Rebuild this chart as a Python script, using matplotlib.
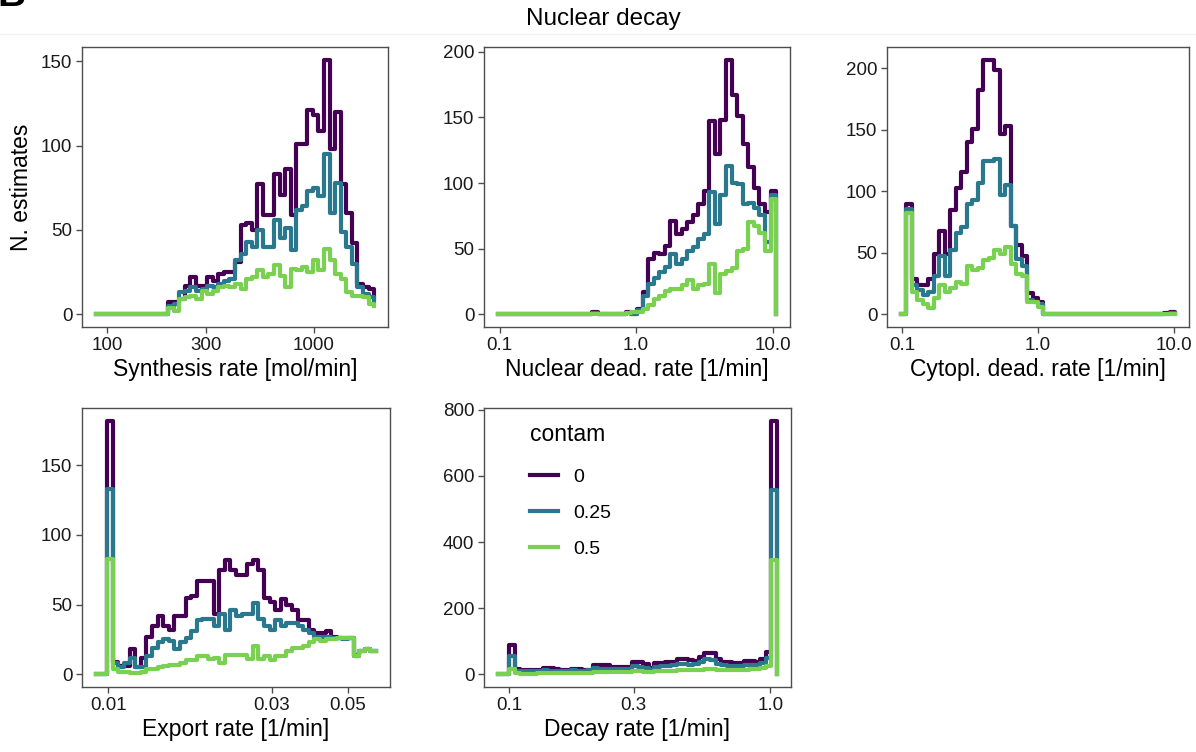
import matplotlib.pyplot as plt
import numpy as np
from matplotlib.ticker import NullLocator

plt.rcParams['font.family'] = ['Liberation Sans', 'DejaVu Sans']

# contam levels and their colours (viridis, end = 0.8)
contam = ['0', '0.25', '0.5']
colors = ['#440154', '#2A788E', '#7AD151']

# each series: 51 step points on an even log10 grid (50 bins + last point)
# Synthesis rate [mol/min]
synth_log_range = (1.947, 3.291)
synth_c0 = [0]*13 + [7, 7, 9, 17, 22, 17, 17, 22, 20, 24, 25, 25,
                     31, 53, 54, 50, 77, 59, 59, 83, 71, 86, 59, 101, 101, 121, 118, 109,
                     151, 98, 120, 77, 60, 42, 18, 16, 15, 10]
synth_c25 = [0]*13 + [5, 6, 13, 14, 16, 14, 15, 17, 16, 18, 20, 21,
                      32, 36, 43, 40, 50, 40, 40, 56, 45, 51, 38, 62, 64, 73, 75, 70,
                      95, 60, 78, 49, 40, 30, 16, 12, 10, 8]
synth_c50 = [0]*13 + [4, 2, 9, 10, 11, 9, 14, 12, 14, 16, 17, 16,
                      18, 15, 21, 22, 26, 22, 24, 29, 23, 16, 27, 26, 28, 25, 32, 26,
                      39, 32, 24, 21, 13, 11, 11, 10, 6, 5]

# Nuclear dead. rate [1/min]
nucl_log_range = (-1.012, 1.025)
nucl_c0 = [0]*17 + [2] + [0]*5 + [2, 0] + [4, 17, 42, 47, 46, 52, 71, 61, 65, 70, 76, 84, 94,
                                           147, 122, 148, 194, 167, 151, 130, 112, 96, 84, 78, 94, 0]
nucl_c25 = [0]*17 + [1] + [0]*5 + [1, 0] + [3, 14, 23, 28, 32, 36, 46, 38, 42, 48, 51, 57, 61,
                                            93, 69, 91, 113, 100, 99, 84, 85, 81, 76, 55, 91, 0]
nucl_c50 = [0]*23 + [1, 2] + [2, 4, 7, 12, 14, 18, 19, 19, 22, 26, 19, 22, 23,
                              38, 16, 31, 33, 35, 48, 50, 70, 67, 62, 48, 88, 0]

# Cytopl. dead. rate [1/min]
cyto_log_range = (-1.012, 1.012)
cyto_c0 = [0, 90, 29, 24, 24, 29, 49, 68, 49, 85, 103, 116, 140, 151, 182, 207, 207, 199,
           147, 153, 72, 56, 47, 17, 13, 10] + [0]*22 + [1, 2, 1]
cyto_c25 = [0, 86, 24, 20, 16, 18, 31, 47, 31, 52, 66, 71, 90, 93, 107, 125, 125, 126,
            97, 105, 72, 45, 39, 12, 10, 8] + [0]*22 + [0, 1, 1]
cyto_c50 = [0, 82, 18, 12, 8, 5, 13, 24, 18, 21, 26, 25, 39, 36, 38, 44, 46, 52,
            49, 55, 41, 33, 31, 10, 10, 6] + [0]*22 + [0, 0, 0]

# Export rate [1/min]
export_log_range = (-2.036, -1.2195)
export_c0 = [0, 0, 182, 9, 6, 6, 18, 5, 12, 27, 35, 42, 35, 32, 42, 42, 55, 56, 67, 67,
             67, 43, 75, 82, 75, 71, 71, 79, 82, 75, 55, 52, 46, 54, 50, 46, 39, 39, 32, 30,
             30, 31, 27, 26, 26, 26, 13, 17, 18, 17, 17]
export_c25 = [0, 0, 133, 8, 5, 8, 12, 5, 5, 13, 19, 23, 25, 24, 18, 23, 26, 31, 39, 40,
              40, 35, 43, 32, 46, 42, 43, 43, 51, 40, 35, 32, 39, 35, 37, 37, 35, 32, 30, 27,
              27, 27, 26, 26, 25, 26, 14, 17, 18, 17, 17]
export_c50 = [0, 0, 83, 4, 2, 2, 1, 1, 2, 4, 4, 5, 6, 7, 7, 8, 10, 10, 13, 13,
              11, 12, 8, 14, 14, 14, 14, 11, 20, 11, 13, 10, 13, 13, 17, 19, 19, 20, 23, 25,
              24, 25, 25, 26, 26, 26, 13, 17, 18, 17, 17]

# Decay rate [1/min]
decay_log_range = (-1.043, 0.0257)
decay_c0 = [0, 0, 90, 15, 13, 13, 13, 13, 18, 18, 15, 13, 13, 17, 17, 13, 13, 28, 28, 27,
            23, 23, 23, 23, 37, 37, 30, 20, 33, 33, 37, 37, 45, 45, 43, 40, 53, 65, 65, 45,
            38, 38, 35, 35, 40, 40, 37, 45, 67, 767, 0]
decay_c25 = [0, 0, 55, 10, 10, 9, 9, 10, 12, 11, 10, 10, 11, 12, 11, 11, 12, 18, 17, 17,
             15, 15, 16, 17, 25, 23, 18, 12, 22, 24, 25, 27, 30, 30, 29, 30, 37, 45, 42, 30,
             27, 26, 25, 24, 28, 28, 28, 35, 50, 557, 0]
decay_c50 = [0, 0, 15, 3, 2, 2, 2, 3, 3, 3, 3, 4, 3, 4, 4, 4, 5, 6, 6, 7,
             7, 7, 7, 7, 10, 10, 8, 6, 9, 9, 10, 11, 12, 12, 12, 13, 14, 16, 17, 13,
             12, 12, 12, 12, 14, 15, 17, 20, 25, 346, 0]

panels = [
    dict(rng=synth_log_range, series=[synth_c0, synth_c25, synth_c50],
         xlabel='Synthesis rate [mol/min]', xticks=[100, 300, 1000], xlabels=['100', '300', '1000'],
         yticks=[0, 50, 100, 150], box=(82, 47, 388, 327)),
    dict(rng=nucl_log_range, series=[nucl_c0, nucl_c25, nucl_c50],
         xlabel='Nuclear dead. rate [1/min]', xticks=[0.1, 1, 10], xlabels=['0.1', '1.0', '10.0'],
         yticks=[0, 50, 100, 150, 200], box=(484, 47, 790, 327)),
    dict(rng=cyto_log_range, series=[cyto_c0, cyto_c25, cyto_c50],
         xlabel='Cytopl. dead. rate [1/min]', xticks=[0.1, 1, 10], xlabels=['0.1', '1.0', '10.0'],
         yticks=[0, 50, 100, 150, 200], box=(887, 47, 1189, 327)),
    dict(rng=export_log_range, series=[export_c0, export_c25, export_c50],
         xlabel='Export rate [1/min]', xticks=[0.01, 0.03, 0.05], xlabels=['0.01', '0.03', '0.05'],
         yticks=[0, 50, 100, 150], box=(82, 408, 390, 687)),
    dict(rng=decay_log_range, series=[decay_c0, decay_c25, decay_c50],
         xlabel='Decay rate [1/min]', xticks=[0.1, 0.3, 1], xlabels=['0.1', '0.3', '1.0'],
         yticks=[0, 200, 400, 600, 800], box=(484, 408, 791, 687)),
]

W, H = 1196, 752
fig = plt.figure(figsize=(W/100, H/100), dpi=100)
edge = '#4d4d4d'

axes = []
for p in panels:
    l, t, r, b = p['box']
    ax = fig.add_axes([l/W, 1 - b/H, (r - l)/W, (b - t)/H])
    lo, hi = p['rng']
    x = np.logspace(lo, hi, 51)
    lines = []
    for vals, c in zip(p['series'], colors):
        ln, = ax.step(x, vals, where='post', color=c, lw=3.0)
        lines.append(ln)
    span = hi - lo
    ax.set_xscale('log')
    ax.set_xlim(10**(lo - 0.05*span), 10**(hi + 0.05*span))
    ymax = max(max(s) for s in p['series'])
    ax.set_ylim(-0.05*ymax, 1.05*ymax)
    ax.set_xticks(p['xticks'])
    ax.set_xticklabels(p['xlabels'])
    ax.xaxis.set_minor_locator(NullLocator())
    ax.set_yticks(p['yticks'])
    ax.set_xlabel(p['xlabel'], fontsize=16.5, labelpad=3)
    ax.tick_params(labelsize=13.5, length=4, width=1, color=edge, labelcolor='#1a1a1a', pad=3)
    for s in ax.spines.values():
        s.set_color(edge)
        s.set_linewidth(1)
    axes.append((ax, lines))

axes[0][0].set_ylabel('N. estimates', fontsize=16.5, labelpad=6)

# legend inside the decay-rate panel
ax5, lines5 = axes[4]
leg = ax5.legend(lines5, contam, title='contam', loc='upper left',
                 bbox_to_anchor=(530/W, 1 - 423/H), bbox_transform=fig.transFigure,
                 frameon=False, fontsize=14, title_fontsize=16.5, handlelength=1.45,
                 handletextpad=0.8, labelspacing=0.95, borderaxespad=0, borderpad=0)
leg._legend_box.align = 'left'
leg._legend_box.sep = 16

fig.text(603/W, 1 - 19/H, 'Nuclear decay', ha='center', va='center', fontsize=17.5)
fig.add_artist(plt.Line2D([0, 1], [1 - 34/H, 1 - 34/H], color='#f2f2f2', lw=1))
fig.text(-3/W, 1 - 6/H, 'B', fontsize=28, fontweight='bold', va='baseline', ha='left')

fig.savefig('out.png', dpi=100, facecolor='white')
